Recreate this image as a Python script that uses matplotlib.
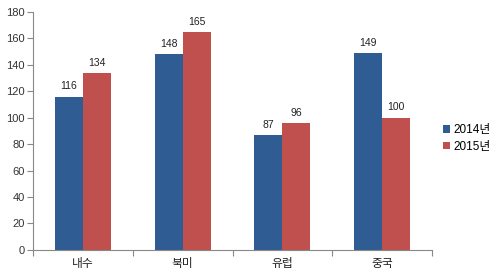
import numpy as np
import matplotlib
matplotlib.use("Agg")
import matplotlib.pyplot as plt

plt.rcParams['font.family'] = ['Liberation Sans', 'Noto Sans CJK KR']

categories = ["내수", "북미", "유럽", "중국"]
y2014 = [116, 148, 87, 149]
y2015 = [134, 165, 96, 100]
series_names = ["2014년", "2015년"]

blue = "#2E5C93"
red = "#C0504D"

fig = plt.figure(figsize=(5, 2.74), dpi=100)
ax = fig.add_axes([0.066, 0.088, 0.798, 0.868])

x = np.arange(len(categories))
w = 0.28
b1 = ax.bar(x - w/2, y2014, w, color=blue, label=series_names[0])
b2 = ax.bar(x + w/2, y2015, w, color=red, label=series_names[1])

for bars, vals in ((b1, y2014), (b2, y2015)):
    for rect, v in zip(bars, vals):
        ax.text(rect.get_x() + rect.get_width()/2, v + 4, str(v),
                ha='center', va='bottom', fontsize=7.5, color='#222222')

ax.set_xlim(-0.5, len(categories) - 0.5)
ax.set_ylim(0, 180)
ax.set_yticks(range(0, 181, 20))
ax.set_xticks(np.arange(-0.5, len(categories), 1), minor=False)
ax.set_xticklabels([])
ax.set_xticks(x, minor=True)
ax.set_xticklabels(categories, minor=True)
ax.tick_params(axis='x', which='minor', length=0, labelsize=8.5, colors='#222222', pad=6)
ax.tick_params(axis='x', which='major', length=4, color='#888888')
ax.tick_params(axis='y', length=4, color='#888888', labelsize=8, labelcolor='#333333', pad=2)

for s in ('top', 'right'):
    ax.spines[s].set_visible(False)
for s in ('left', 'bottom'):
    ax.spines[s].set_color('#888888')
    ax.spines[s].set_linewidth(0.8)

fig.legend(handles=[b1, b2], loc='center left', bbox_to_anchor=(0.872, 0.495),
           frameon=False, fontsize=8.5, handlelength=0.6, handleheight=0.6,
           handletextpad=0.3, labelspacing=0.4, borderaxespad=0.2)

fig.savefig("out.png", dpi=100)
